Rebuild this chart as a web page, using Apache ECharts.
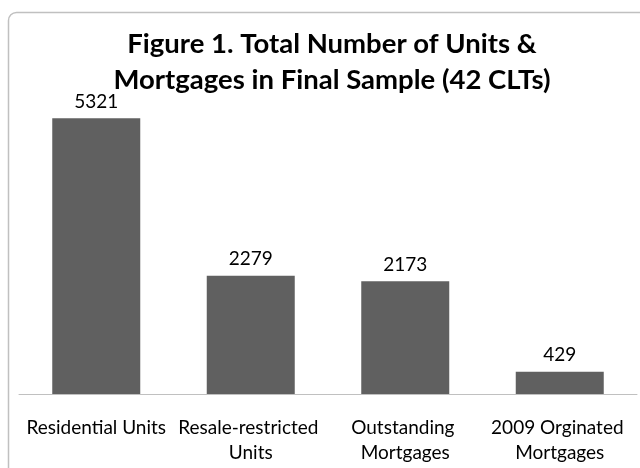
<!DOCTYPE html>
<html>
<head>
<meta charset="utf-8">
<script src="https://cdn.jsdelivr.net/npm/echarts@6/dist/echarts.min.js"></script>
<style>
html,body{margin:0;padding:0;background:#fff;}
#c{width:640px;height:468px;}
</style>
</head>
<body>
<div id="c"></div>
<script>
const categories = ["Residential Units", "Resale-restricted Units", "Outstanding Mortgages", "2009 Orginated Mortgages"];
const values = [5321, 2279, 2173, 429];
const titleText = "Figure 1. Total Number of Units &\nMortgages in Final Sample (42 CLTs)";

const chart = echarts.init(document.getElementById('c'));
chart.setOption({
  animation: false,
  graphic: [{
    type: 'rect',
    shape: {x: 8.5, y: 12.5, width: 700, height: 500, r: 8},
    style: {fill: 'none', stroke: '#c0c0c0', lineWidth: 1.5},
    silent: true
  }],
  title: {
    text: titleText,
    left: 327,
    textAlign: 'center',
    top: 21,
    textStyle: {fontFamily: 'Lato', fontWeight: 'bold', fontSize: 27.5, lineHeight: 36, color: '#000'}
  },
  grid: {left: 19, right: 3, top: 83, bottom: 74, containLabel: false},
  xAxis: {
    type: 'category',
    data: categories,
    axisLine: {lineStyle: {color: '#c0c0c0', width: 1}},
    axisTick: {show: false},
    axisLabel: {
      interval: 0,
      margin: 21,
      width: 152,
      overflow: 'break',
      fontFamily: 'Lato',
      fontSize: 19,
      lineHeight: 25,
      color: '#000'
    }
  },
  yAxis: {
    type: 'value',
    min: 0, max: 6000, interval: 1000,
    show: false,
    splitLine: {show: false}
  },
  series: [{
    type: 'bar',
    data: values,
    barWidth: 88,
    itemStyle: {color: '#606060'},
    label: {
      show: true,
      position: 'top',
      distance: 7,
      fontFamily: 'Lato',
      fontSize: 19,
      color: '#000'
    }
  }]
});
</script>
</body>
</html>
